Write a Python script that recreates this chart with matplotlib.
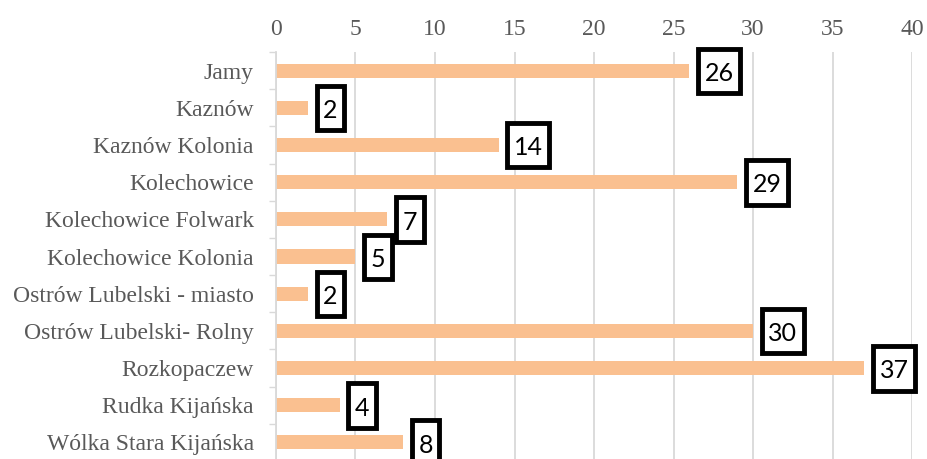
import matplotlib
matplotlib.use('Agg')
import matplotlib.pyplot as plt
from matplotlib.path import Path
from matplotlib.ticker import FixedLocator

places = ["Jamy", "Kaznów", "Kaznów Kolonia", "Kolechowice", "Kolechowice Folwark",
          "Kolechowice Kolonia", "Ostrów Lubelski - miasto", "Ostrów Lubelski- Rolny",
          "Rozkopaczew", "Rudka Kijańska", "Wólka Stara Kijańska"]
counts = [26, 2, 14, 29, 7, 5, 2, 30, 37, 4, 8]
x_ticks = [0, 5, 10, 15, 20, 25, 30, 35, 40]


def tall_box(x0, y0, width, height, mutation_size):
    # box with more padding top/bottom than left/right
    px = 0.26 * mutation_size
    x0 = x0 - px
    x1 = x0 + width + 2 * px
    y1 = y0 + height + 0.53 * mutation_size
    y0 = y0 - 0.33 * mutation_size
    return Path([(x0, y0), (x1, y0), (x1, y1), (x0, y1), (x0, y0)], closed=True)


def main():
    fig = plt.figure(figsize=(9.28, 4.59), dpi=100)
    ax = fig.add_axes([0.2974, -0.0044, 0.6854, 0.8911])

    pos = list(range(len(places)))
    ax.barh(pos, counts, height=0.38, color="#FAC090", zorder=2)

    # labels in black boxes
    for y, v in zip(pos, counts):
        ax.annotate(str(v), (v, y), xytext=(11, -2), textcoords="offset points",
                    ha="left", va="center", fontsize=18, family="Lato",
                    color="black", annotation_clip=False, zorder=5,
                    bbox=dict(boxstyle=tall_box, fc="white",
                              ec="black", lw=3.5))

    ax.set_xlim(0, 40)
    ax.set_ylim(len(places) - 0.5, -0.5)
    ax.set_xticks(x_ticks)
    ax.xaxis.tick_top()
    ax.tick_params(axis="x", length=0, pad=9, labelsize=17, labelcolor="#595959")
    ax.set_yticks(pos)
    ax.set_yticklabels(places)
    ax.tick_params(axis="y", which="major", length=0, pad=16, labelsize=17,
                   labelcolor="#595959")
    ax.yaxis.set_minor_locator(FixedLocator([i - 0.5 for i in range(len(places) + 1)]))
    ax.tick_params(axis="y", which="minor", length=5, width=1, color="#D9D9D9")
    for lab in ax.get_xticklabels() + ax.get_yticklabels():
        lab.set_family("Liberation Serif")

    ax.grid(axis="x", color="#D9D9D9", lw=1.3, zorder=0)
    for s in ["top", "right", "bottom"]:
        ax.spines[s].set_visible(False)
    ax.spines["left"].set_color("#D9D9D9")
    ax.spines["left"].set_linewidth(1.3)

    fig.savefig("out.png", dpi=100)


if __name__ == "__main__":
    main()
